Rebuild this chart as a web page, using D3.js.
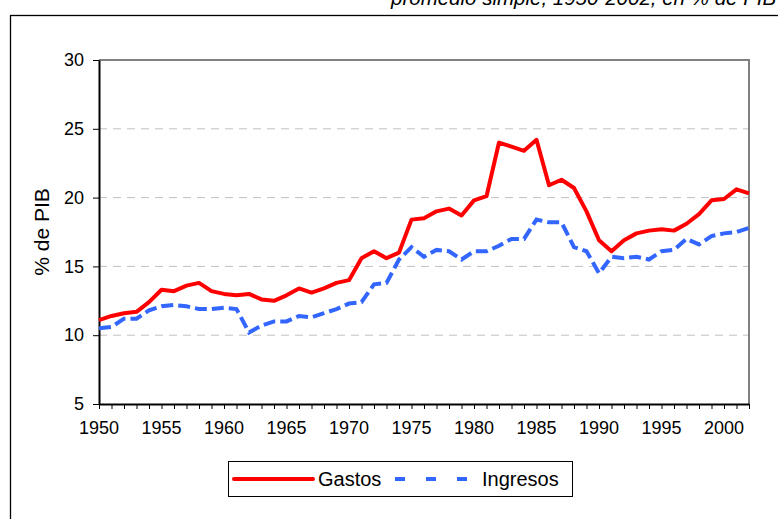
<!doctype html>
<html>
<head>
    <meta charset="UTF-8">
    <title>Gastos e Ingresos</title>
    <script src="https://cdn.jsdelivr.net/npm/d3@7"></script>
    <style>
        body { margin: 0; background: #fff; }
        svg text { font-family: Arial, "Liberation Sans", sans-serif; fill: #000; }
    </style>
</head>
<body>
<svg class="chart" width="778" height="519"></svg>
<script>
    // datos
    var years = d3.range(1950, 2003);
    var gastos = [11.1, 11.4, 11.6, 11.7, 12.4, 13.3, 13.2, 13.6, 13.8, 13.2,
        13.0, 12.9, 13.0, 12.6, 12.5, 12.9, 13.4, 13.1, 13.4, 13.8,
        14.0, 15.6, 16.1, 15.6, 16.0, 18.4, 18.5, 19.0, 19.2, 18.7,
        19.8, 20.1, 24.0, 23.7, 23.4, 24.2, 20.9, 21.3, 20.7, 19.0,
        16.9, 16.1, 16.9, 17.4, 17.6, 17.7, 17.6, 18.1, 18.8, 19.8,
        19.9, 20.6, 20.3];
    var ingresos = [10.5, 10.6, 11.2, 11.2, 11.8, 12.1, 12.2, 12.1, 11.9, 11.9,
        12.0, 11.9, 10.2, 10.7, 11.0, 11.0, 11.4, 11.3, 11.6, 11.9,
        12.3, 12.4, 13.7, 13.8, 15.5, 16.4, 15.7, 16.2, 16.1, 15.5,
        16.1, 16.1, 16.5, 17.0, 17.0, 18.4, 18.2, 18.2, 16.4, 16.1,
        14.5, 15.7, 15.6, 15.7, 15.5, 16.1, 16.2, 17.0, 16.6, 17.2,
        17.4, 17.5, 17.8];
    var yTicks = [5, 10, 15, 20, 25, 30];
    var xLabels = [1950, 1955, 1960, 1965, 1970, 1975, 1980, 1985, 1990, 1995, 2000];

    var svg = d3.select(".chart");
    var pLeft = 99, pRight = 749, pTop = 60, pBottom = 404;

    // marco exterior y titulo
    svg.append("rect").attr("x", 10.5).attr("y", 15.5).attr("width", 800).attr("height", 600)
        .attr("fill", "none").attr("stroke", "#000").attr("stroke-width", 1.3);
    svg.append("text").attr("x", 391).attr("y", 5)
        .attr("font-size", 20.5).attr("font-style", "italic")
        .text("promedio simple, 1950-2002, en % de PIB");

    var x = d3.scaleLinear().domain([1950, 2002]).range([pLeft, pRight]);
    var y = d3.scaleLinear().domain([5, 30]).range([pBottom, pTop]);

    // lineas de grilla
    svg.append("g").selectAll("line").data(yTicks.filter(function (d) { return d > 5 && d < 30; }))
        .enter().append("line")
        .attr("x1", pLeft).attr("x2", pRight)
        .attr("y1", function (d) { return y(d); }).attr("y2", function (d) { return y(d); })
        .attr("stroke", "#c0c0c0").attr("stroke-width", 1).attr("stroke-dasharray", "8,6");

    // borde del area de trazado
    svg.append("path").attr("d", "M" + pLeft + "," + pTop + "H" + pRight + "V" + pBottom)
        .attr("fill", "none").attr("stroke", "#808080").attr("stroke-width", 2);

    var yAxis = svg.append("g").attr("transform", "translate(" + pLeft + ",0)")
        .call(d3.axisLeft(y).tickValues(yTicks).tickSize(6).tickSizeOuter(0).tickPadding(9).tickFormat(d3.format("d")));
    yAxis.select(".domain").attr("stroke", "#000").attr("stroke-width", 2);
    yAxis.selectAll("text").attr("font-size", 18).attr("font-family", "Arial, 'Liberation Sans', sans-serif");

    var xAxis = svg.append("g").attr("transform", "translate(0," + pBottom + ")")
        .call(d3.axisBottom(x).tickValues(years).tickSize(5).tickSizeOuter(0).tickFormat(""));
    xAxis.select(".domain").attr("stroke", "#000").attr("stroke-width", 2);
    xAxis.selectAll(".tick line").attr("stroke", "#000");

    svg.append("g").selectAll("text").data(xLabels).enter().append("text")
        .attr("x", function (d) { return x(d); }).attr("y", pBottom + 30)
        .attr("text-anchor", "middle").attr("font-size", 18)
        .text(function (d) { return d; });

    svg.append("text")
        .attr("transform", "translate(49," + ((pTop + pBottom) / 2) + ") rotate(-90)")
        .attr("text-anchor", "middle").attr("font-size", 21)
        .text("% de PIB");

    var line = d3.line()
        .x(function (d, i) { return x(years[i]); })
        .y(function (d) { return y(d); });

    svg.append("path").datum(ingresos).attr("d", line)
        .attr("fill", "none").attr("stroke", "#3366ff").attr("stroke-width", 4)
        .attr("stroke-dasharray", "12,5");
    svg.append("path").datum(gastos).attr("d", line)
        .attr("fill", "none").attr("stroke", "#ff0000").attr("stroke-width", 4)
        .attr("stroke-linejoin", "round");

    // leyenda
    var lg = svg.append("g");
    lg.append("rect").attr("x", 228.5).attr("y", 461.5).attr("width", 344).attr("height", 35)
        .attr("fill", "#fff").attr("stroke", "#000").attr("stroke-width", 1);
    lg.append("line").attr("x1", 234).attr("x2", 313).attr("y1", 479).attr("y2", 479)
        .attr("stroke", "#ff0000").attr("stroke-width", 4).attr("stroke-linecap", "round");
    lg.append("text").attr("x", 318).attr("y", 486).attr("font-size", 20).text("Gastos");
    lg.append("line").attr("x1", 395).attr("x2", 467).attr("y1", 479).attr("y2", 479)
        .attr("stroke", "#3366ff").attr("stroke-width", 4).attr("stroke-dasharray", "10,21");
    lg.append("text").attr("x", 482).attr("y", 486).attr("font-size", 20).text("Ingresos");
</script>
</body>
</html>
